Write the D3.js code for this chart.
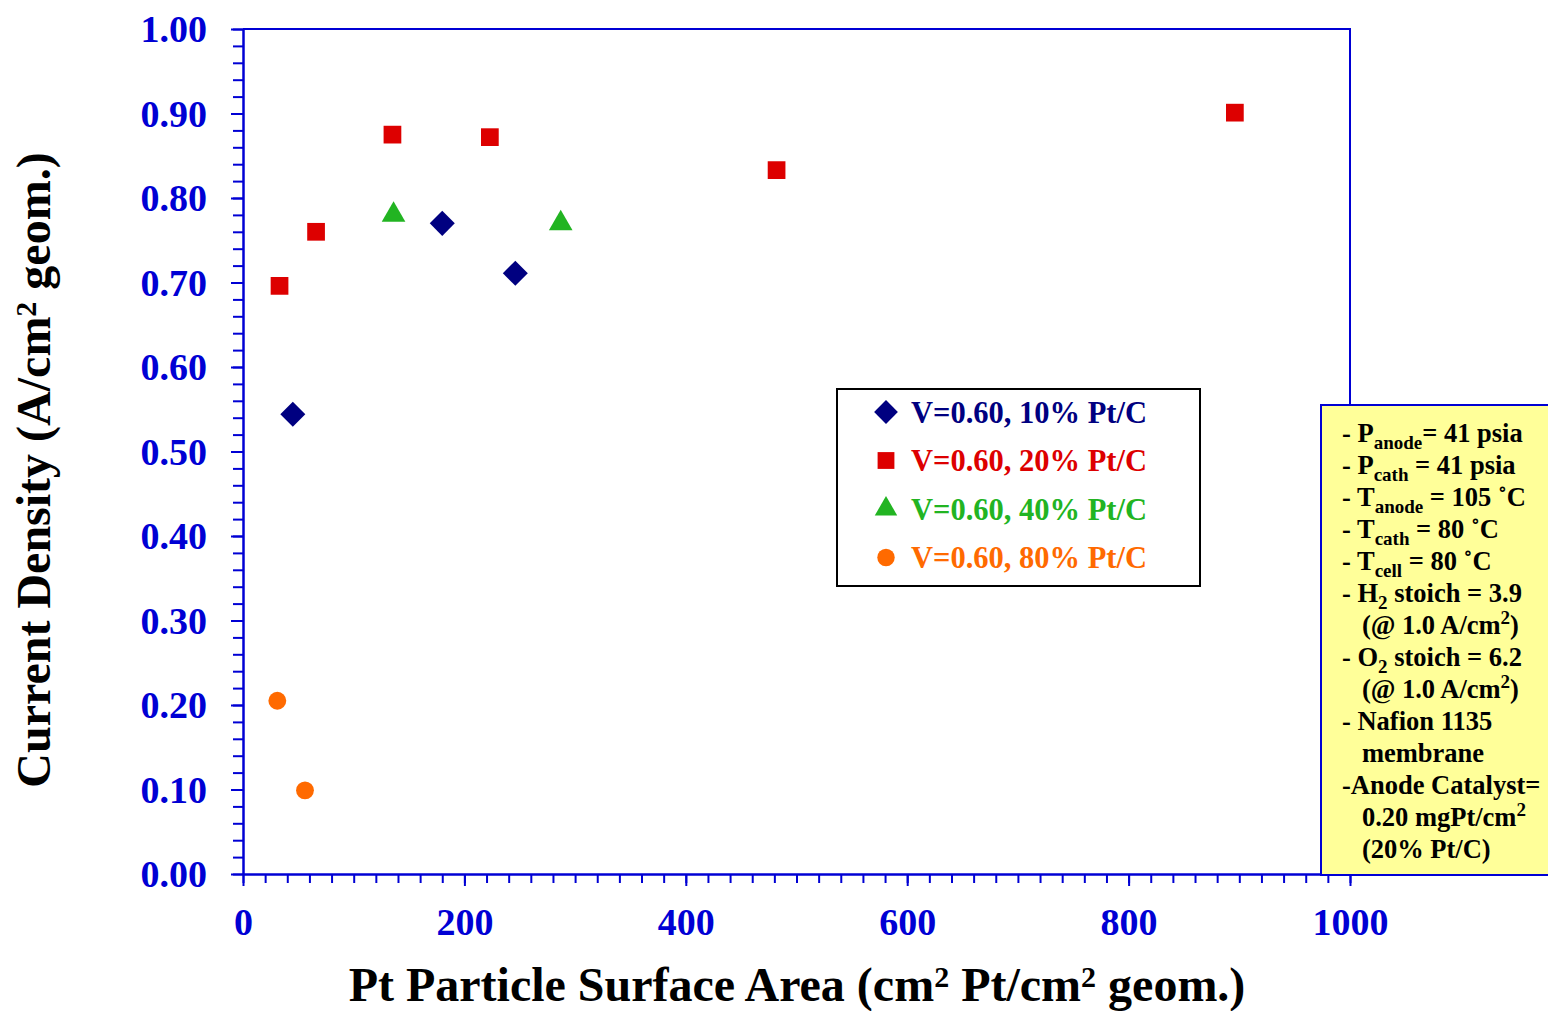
<!DOCTYPE html>
<html>
<head>
<meta charset="utf-8">
<script src="https://cdn.jsdelivr.net/npm/d3@7.9.0/dist/d3.min.js"></script>
<style>
  body { margin: 0; background: #fff; }
  svg { display: block; font-family: "Liberation Serif", "Times New Roman", serif; font-weight: bold; }
</style>
</head>
<body>
<svg id="chart" width="1548" height="1011"></svg>
<script>
// data
const pt10x = [45, 180, 246];
const pt10y = [0.544, 0.770, 0.711];
const pt20x = [33, 66, 135, 223, 482, 896];
const pt20y = [0.696, 0.760, 0.875, 0.872, 0.833, 0.901];
const pt40x = [136, 287];
const pt40y = [0.780, 0.770];
const pt80x = [31, 56];
const pt80y = [0.205, 0.099];

const xTicks = [0, 200, 400, 600, 800, 1000];
const yTicks = [0, 0.1, 0.2, 0.3, 0.4, 0.5, 0.6, 0.7, 0.8, 0.9, 1.0];

const seriesNames = ['V=0.60, 10% Pt/C', 'V=0.60, 20% Pt/C', 'V=0.60, 40% Pt/C', 'V=0.60, 80% Pt/C'];
const seriesColors = ['#000080', '#dd0000', '#22b422', '#ff6a00'];
const seriesShapes = [d3.symbolDiamond2, d3.symbolSquare2, d3.symbolTriangle2, d3.symbolCircle];

const notes = [
  [['- P', ''], ['anode', 'sub'], ['= 41 psia', '']],
  [['- P', ''], ['cath', 'sub'], [' = 41 psia', '']],
  [['- T', ''], ['anode', 'sub'], [' = 105 ˚C', '']],
  [['- T', ''], ['cath', 'sub'], [' = 80 ˚C', '']],
  [['- T', ''], ['cell', 'sub'], [' = 80 ˚C', '']],
  [['- H', ''], ['2', 'sub'], [' stoich = 3.9', '']],
  [['   (@ 1.0 A/cm', ''], ['2', 'sup'], [')', '']],
  [['- O', ''], ['2', 'sub'], [' stoich = 6.2', '']],
  [['   (@ 1.0 A/cm', ''], ['2', 'sup'], [')', '']],
  [['- Nafion 1135', '']],
  [['   membrane', '']],
  [['-Anode Catalyst=', '']],
  [['   0.20 mgPt/cm', ''], ['2', 'sup']],
  [['   (20% Pt/C)', '']],
];

const series = [
  { xs: pt10x, ys: pt10y },
  { xs: pt20x, ys: pt20y },
  { xs: pt40x, ys: pt40y },
  { xs: pt80x, ys: pt80y },
];

const blue = '#0000d4';
const svg = d3.select('#chart');

const x = d3.scaleLinear().domain([0, 1000]).range([243, 1350]);
const y = d3.scaleLinear().domain([0, 1]).range([874, 29]);

// frame (top & right)
svg.append('path')
  .attr('d', `M${x(0)},${y(1)}H${x(1000)}V${y(0)}`)
  .attr('fill', 'none').attr('stroke', blue).attr('stroke-width', 2);

// minor ticks
svg.append('g')
  .attr('transform', `translate(${x(0)},0)`)
  .call(d3.axisLeft(y).tickValues(d3.range(0, 1.0001, 0.02)).tickSize(10).tickFormat(''))
  .call(g => g.select('.domain').remove())
  .selectAll('line').attr('stroke', blue).attr('stroke-width', 2);

svg.append('g')
  .attr('transform', `translate(0,${y(0)})`)
  .call(d3.axisBottom(x).tickValues(d3.range(0, 1001, 20)).tickSize(9).tickFormat(''))
  .call(g => g.select('.domain').remove())
  .selectAll('line').attr('stroke', blue).attr('stroke-width', 2);

// major axes
const yAxis = svg.append('g')
  .attr('transform', `translate(${x(0)},0)`)
  .call(d3.axisLeft(y).tickValues(yTicks).tickSize(12).tickSizeOuter(0).tickPadding(24)
    .tickFormat(d3.format('.2f')));
const xAxis = svg.append('g')
  .attr('transform', `translate(0,${y(0)})`)
  .call(d3.axisBottom(x).tickValues(xTicks).tickSize(12).tickSizeOuter(0).tickPadding(22)
    .tickFormat(d3.format('d')));

[xAxis, yAxis].forEach(g => {
  g.select('.domain').attr('stroke', blue).attr('stroke-width', 2.5);
  g.selectAll('line').attr('stroke', blue).attr('stroke-width', 2);
  g.selectAll('text').attr('fill', blue)
    .style('font-family', '"Liberation Serif", serif')
    .style('font-weight', 'bold').style('font-size', '38px');
});
xAxis.selectAll('text').attr('dy', '0.71em');
yAxis.selectAll('text').attr('dy', '0.34em');

// axis titles
const yTitle = svg.append('text')
  .attr('transform', `translate(50,470) rotate(-90)`)
  .attr('text-anchor', 'middle').attr('font-size', 48).attr('fill', '#000');
yTitle.append('tspan').text('Current Density (A/cm');
yTitle.append('tspan').attr('dy', -14).attr('font-size', 30).text('2');
yTitle.append('tspan').attr('dy', 14).text(' geom.)');

const xTitle = svg.append('text')
  .attr('x', 797).attr('y', 1001)
  .attr('text-anchor', 'middle').attr('font-size', 48).attr('fill', '#000');
xTitle.append('tspan').text('Pt Particle Surface Area (cm');
xTitle.append('tspan').attr('dy', -14).attr('font-size', 30).text('2');
xTitle.append('tspan').attr('dy', 14).text(' Pt/cm');
xTitle.append('tspan').attr('dy', -14).attr('font-size', 30).text('2');
xTitle.append('tspan').attr('dy', 14).text(' geom.)');

// points
series.forEach((s, i) => {
  const pts = s.xs.map((v, j) => [v, s.ys[j]]);
  svg.append('g').selectAll('path')
    .data(pts)
    .join('path')
    .attr('transform', d => `translate(${x(d[0])},${y(d[1])})`)
    .attr('d', d3.symbol().type(seriesShapes[i]).size(i === 3 ? 250 : 400))
    .attr('fill', seriesColors[i]);
});

// legend
const legend = svg.append('g').attr('transform', 'translate(837,389)');
legend.append('rect').attr('width', 363).attr('height', 197)
  .attr('fill', '#fff').attr('stroke', '#000').attr('stroke-width', 2);
seriesNames.forEach((name, i) => {
  const row = legend.append('g').attr('transform', `translate(0,${23 + i * 48.5})`);
  row.append('path')
    .attr('transform', 'translate(49,0)')
    .attr('d', d3.symbol().type(seriesShapes[i]).size(i === 3 ? 240 : 360))
    .attr('fill', seriesColors[i]);
  row.append('text').attr('x', 74).attr('dy', '0.35em')
    .attr('font-size', 30.5).attr('fill', seriesColors[i]).text(name);
});

// conditions box
const box = svg.append('g').attr('transform', 'translate(1321,405)');
box.append('rect').attr('width', 240).attr('height', 470)
  .attr('fill', '#ffff99').attr('stroke', blue).attr('stroke-width', 2);
notes.forEach((line, i) => {
  const t = box.append('text').attr('x', 21).attr('y', 37 + i * 32)
    .attr('font-size', 26.5).attr('fill', '#000').attr('xml:space', 'preserve')
    .style('white-space', 'pre');
  line.forEach(([str, kind]) => {
    const sp = t.append('tspan').text(str);
    if (kind === 'sub') sp.attr('dy', 7).attr('font-size', 19);
    else if (kind === 'sup') sp.attr('dy', -10).attr('font-size', 19);
    else if (t.node().childNodes.length > 1) {
      const prev = t.node().childNodes[t.node().childNodes.length - 2];
      const pk = prev.getAttribute('dy');
      if (pk) sp.attr('dy', -(+pk));
    }
  });
});
</script>
</body>
</html>
